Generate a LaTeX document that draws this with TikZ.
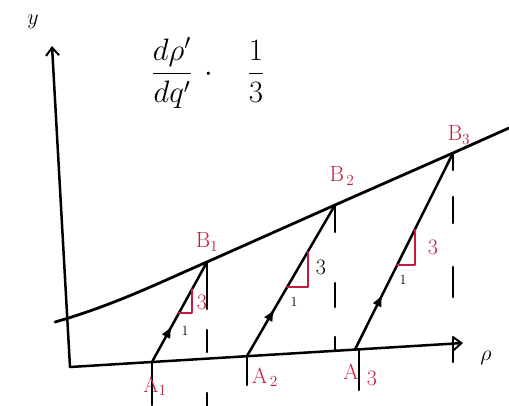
\documentclass[tikz,border=0pt]{standalone}
\usepackage{fix-cm}
\usepackage{xcolor}
\usepackage{amsmath}
\usetikzlibrary{arrows.meta, decorations.markings, calc}

\definecolor{penred}{RGB}{196,28,62}

\begin{document}
\begin{tikzpicture}[
    x=1pt, y=-1pt,
    line cap=round, line join=round,
    font=\fontsize{22}{26}\selectfont,
    axis/.style     ={line width=2.5pt, -{Straight Barb[length=8pt, width=13pt, line width=2pt]}},
    front/.style    ={line width=2.8pt},
    charline/.style ={line width=2.5pt, postaction={decorate},
                      decoration={markings,
                        mark=at position #1 with {\arrow{Latex[length=12pt, width=10pt]}}}},
    charline/.default=0.32,
    guide/.style    ={line width=2.5pt},
    slope/.style    ={penred, line width=2pt},
    lbl/.style      ={text=penred, inner sep=1pt},
    unit/.style     ={font=\fontsize{14}{16}\selectfont, inner sep=0pt}
]
\useasboundingbox (0,0) rectangle (509,405);

% Axes
\coordinate (O)    at (70,367);
\coordinate (ytop) at (52,46);
\coordinate (xend) at (463,343);
\draw[axis] (O) -- (ytop);
\draw[axis] (O) -- (xend);
\node (ylab) at (33,22) {$y$};
\node (xlab) at (486,358) {$\rho$};

% Slope formula
\node[font=\fontsize{31}{36}\selectfont] (formula) at (208,73)
    {$\dfrac{d\rho'}{dq'}\,\cdot\hspace{28pt}\dfrac{1}{3}$};

% Points on the axis and on the upper curve
\coordinate (A1) at (152,362);
\coordinate (A2) at (247,356);
\coordinate (A3) at (355,349.5);
\coordinate (B1) at (207,262);
\coordinate (B2) at (335,205);
\coordinate (B3) at (453,153);
\coordinate (cstart) at (55,322);
\coordinate (cend)   at (509,128);

% Upper curve
\draw[front] (cstart) .. controls (115,305) and (165,280) .. (B1)
    -- (B2) -- (B3) -- (cend);

% Characteristic lines A_i -> B_i
\draw[charline=0.36] (A1) -- (B1);
\draw[charline=0.31] (A2) -- (B2);
\draw[charline=0.28] (A3) -- (B3);

% Dashed guides below B_i
\coordinate (B1end) at (207,408);
\coordinate (B2end) at (335,351);
\coordinate (B3end) at (453,362);
\draw[guide, dash pattern=on 47pt off 21pt on 22pt off 41pt on 15pt] (B1) -- (B1end);
\draw[guide, dash pattern=on 27pt off 51pt on 24pt off 30pt on 14pt] (B2) -- (B2end);
\draw[guide, dash pattern=on 17pt off 27pt on 26pt off 44pt on 30pt off 40pt on 25pt] (B3) -- (B3end);

% Ticks below A_i
\coordinate (A1end) at (152,405);
\coordinate (A2end) at (247,385);
\coordinate (A3end) at (359,390);
\draw[guide] (A1) -- (A1end);
\draw[guide] (A2) -- (A2end);
\draw[guide] (A3 -| A3end) -- (A3end);

% Slope triangles
\draw[slope] ($(A1)!0.49!(B1)$) -| ($(A1)!0.73!(B1)$);
\draw[slope] ($(A2)!0.457!(B2)$) -| ($(A2)!0.69!(B2)$);
\draw[slope] ($(A3)!0.43!(B3)$) -| ($(A3)!0.61!(B3)$);
\node[lbl] (rise1) at (202,302) {3};
\node      (rise2) at (321,267) {3};
\node[lbl] (rise3) at (433,247) {3};
\node[unit] (run1) at (185,331) {1};
\node[unit] (run2) at (294,302) {1};
\node[unit] (run3) at (403,280) {1};

% Point labels
\node[lbl] (lB1) at (207,242) {B$_1$};
\node[lbl] (lB2) at (342,176) {B$_{\,2}$};
\node[lbl] (lB3) at (459,135) {B$_3$};
\node[lbl] (lA1) at (155,386) {A$_1$};
\node[lbl] (lA2) at (265,377) {A$_{\,2}$};
\node[lbl] (lA3) at (351,372) {A};
\node[lbl] (lA3n) at (372,378) {3};

\end{tikzpicture}
\end{document}
